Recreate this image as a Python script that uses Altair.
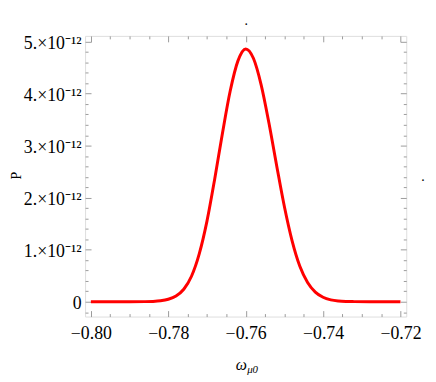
import altair as alt
import pandas as pd

# Curve (P in units of 1e-12)
omega = [-0.800, -0.795, -0.790, -0.786, -0.784, -0.782, -0.780, -0.778,
         -0.776, -0.774, -0.772, -0.770, -0.768, -0.766, -0.764, -0.762,
         -0.760, -0.758, -0.756, -0.754, -0.752, -0.750, -0.748, -0.746,
         -0.744, -0.742, -0.740, -0.738, -0.736, -0.734, -0.732, -0.728,
         -0.724, -0.720]
prob = [0.0, 0.0, 0.0, 0.002, 0.006, 0.018, 0.047, 0.11,
        0.24, 0.49, 0.92, 1.55, 2.36, 3.24, 4.05, 4.63,
        4.86, 4.68, 4.17, 3.44, 2.62, 1.83, 1.17, 0.68,
        0.37, 0.185, 0.086, 0.036, 0.014, 0.005, 0.002, 0.0,
        0.0, 0.0]

x_major = [-0.80, -0.78, -0.76, -0.74, -0.72]
x_minor = [round(-0.80 + 0.005 * i, 3) for i in range(17)]
y_major = [0, 1, 2, 3, 4, 5]
y_minor = [round(-0.2 + 0.2 * i, 1) for i in range(27)]

df = pd.DataFrame({"omega": omega, "P": prob})

W, H = 325, 284
FRAME = "#9a9a9a"
FONT = "Liberation Serif"

xs = alt.Scale(domain=[-0.8015, -0.7185], nice=False, zero=False)
ys = alt.Scale(domain=[-0.285, 5.11], nice=False, zero=False)

major_x_test = "abs(datum.value*50 - round(datum.value*50)) < 0.001"
major_y_test = "abs(datum.value - round(datum.value)) < 0.001"

base = alt.Chart(df)

main = base.mark_line(color="#ff0000", strokeWidth=3, interpolate="monotone").encode(
    x=alt.X("omega:Q", scale=xs,
            axis=alt.Axis(orient="bottom", values=x_major, format=".2f", ticks=False,
                          domain=False, grid=False, labelFont=FONT, labelFontSize=18,
                          labelColor="black", labelPadding=8, title=None)),
    y=alt.Y("P:Q", scale=ys,
            axis=alt.Axis(orient="left", values=y_major,
                          labelExpr="datum.value == 0 ? '0' : datum.value + '.×10⁻¹²'",
                          ticks=False, domain=False, grid=False, labelFont=FONT,
                          labelFontSize=18, labelColor="black", labelPadding=4,
                          labelOffset=2,
                          title="P", titleFont=FONT, titleFontSize=14,
                          titleFontWeight="normal", titleColor="black",
                          titleX=-69, titleY=141, titleAngle=270,
                          titleAlign="center", titleBaseline="middle")),
)


def tick_layer(xorient, yorient):
    return base.mark_line(opacity=0).encode(
        x=alt.X("omega:Q", scale=xs,
                axis=alt.Axis(orient=xorient, offset=-H, values=x_minor, labels=False,
                              domain=False, grid=False, title=None, tickColor=FRAME,
                              tickWidth=1,
                              tickSize={"condition": {"test": major_x_test, "value": 6},
                                        "value": 3})),
        y=alt.Y("P:Q", scale=ys,
                axis=alt.Axis(orient=yorient, offset=-W, values=y_minor, labels=False,
                              domain=False, grid=False, title=None, tickColor=FRAME,
                              tickWidth=1,
                              tickSize={"condition": {"test": major_y_test, "value": 6},
                                        "value": 3})),
    )


ticks_a = tick_layer("top", "right")   # bottom & left frame, inward
ticks_b = tick_layer("bottom", "left")  # top & right frame, inward

lbl = pd.DataFrame({"t": ["ω"]})
xt1 = alt.Chart(lbl).mark_text(font=FONT, fontSize=16, fontStyle="italic",
                               align="center", baseline="alphabetic").encode(
    x=alt.value(158), y=alt.value(338), text="t:N")
lbl2 = pd.DataFrame({"t": ["μ0"]})
xt2 = alt.Chart(lbl2).mark_text(font=FONT, fontSize=11, fontStyle="italic",
                                align="left", baseline="alphabetic").encode(
    x=alt.value(164), y=alt.value(341), text="t:N")
dots = pd.DataFrame({"t": ["."]})
d1 = alt.Chart(dots).mark_text(font=FONT, fontSize=14, align="center").encode(
    x=alt.value(163), y=alt.value(-15), text="t:N")
d2 = alt.Chart(dots).mark_text(font=FONT, fontSize=14, align="center").encode(
    x=alt.value(342), y=alt.value(143), text="t:N")

chart = alt.layer(main, ticks_a, ticks_b, xt1, xt2, d1, d2).resolve_axis(
    x="independent", y="independent"
).properties(
    width=W, height=H,
    autosize=alt.AutoSizeParams(type="none"),
    padding={"left": 78, "top": 26, "right": 22, "bottom": 64},
).configure_view(stroke=FRAME, strokeWidth=1).configure(background="white")

chart.save("out.html", embed_options={"renderer": "svg", "actions": False})
